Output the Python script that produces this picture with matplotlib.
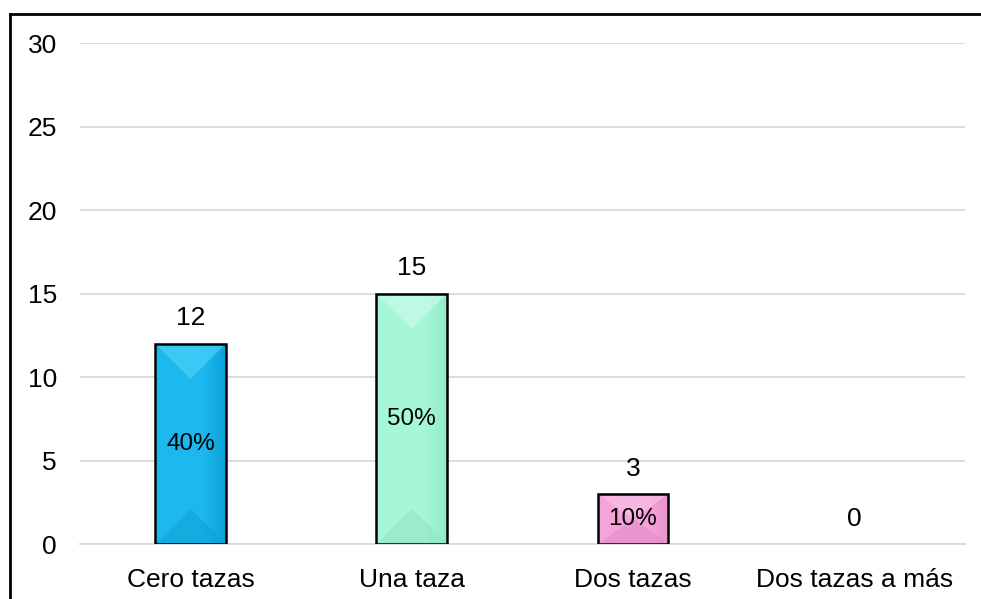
import numpy as np
import matplotlib.pyplot as plt
from matplotlib.patches import Polygon
from matplotlib.lines import Line2D
from matplotlib.colors import LinearSegmentedColormap

plt.rcParams['font.family'] = ['Liberation Sans', 'DejaVu Sans']

categorias = ['Cero tazas', 'Una taza', 'Dos tazas', 'Dos tazas a más']
cantidades = [12, 15, 3, 0]
porcentajes = ['40%', '50%', '10%', '']
colores = ['#1CB8EE', '#A6F7D8', '#F6A3DA', '#CCCCCC']
claros = ['#4FD6FB', '#CFFCEF', '#FBC3E9', '#EEEEEE']
oscuros = ['#0E9FD2', '#8FE3C3', '#E08BC4', '#AAAAAA']
derechos = ['#0BA3DA', '#93EBC8', '#EA93CC', '#BBBBBB']

fig = plt.figure(figsize=(9.81, 5.99), dpi=100)
ax = fig.add_axes([0.0815, 0.0918, 0.902, 0.8364])

x = np.arange(len(categorias))
ancho = 0.32
ax.set_ylim(0, 30)
ax.set_xlim(-0.5, len(categorias) - 0.5)
barras = ax.bar(x, cantidades, width=ancho, color=colores, edgecolor='none',
                linewidth=0, zorder=3)

# profundidad del bisel (45 grados) en unidades de datos
fig.canvas.draw()
p0 = ax.transData.transform((0, 0))
p1 = ax.transData.transform((ancho, 1))
d_bisel = ((p1[0] - p0[0]) / 2) / (p1[1] - p0[1])

for b, c_base, c_claro, c_osc, c_der in zip(barras, colores, claros, oscuros, derechos):
    h = b.get_height()
    if h <= 0:
        b.set_visible(False)
        continue
    x0, w = b.get_x(), b.get_width()
    # degradado horizontal: mas oscuro a la derecha
    grad = np.linspace(0, 1, 64).reshape(1, -1)
    cmap = LinearSegmentedColormap.from_list('g', [c_base, c_base, c_base, c_der])
    im = ax.imshow(grad, extent=(x0, x0 + w, 0, h), aspect='auto', cmap=cmap,
                   zorder=3.2, interpolation='bilinear')
    im.set_clip_path(b)
    d = min(d_bisel, h / 2)
    ax.add_patch(Polygon([(x0, h), (x0 + w, h), (x0 + w / 2, h - d)],
                         closed=True, color=c_claro, alpha=0.6, lw=0, zorder=3.5))
    ax.add_patch(Polygon([(x0, 0), (x0 + w, 0), (x0 + w / 2, d)],
                         closed=True, color=c_osc, alpha=0.5, lw=0, zorder=3.5))
    ax.add_patch(Polygon([(x0, 0), (x0 + w, 0), (x0 + w, h), (x0, h)],
                         closed=True, fill=False, edgecolor='black', lw=1.8, zorder=4))

ax.set_xlim(-0.5, len(categorias) - 0.5)
ax.set_ylim(0, 30)

for xi, v, p in zip(x, cantidades, porcentajes):
    ax.text(xi, v + 0.8, str(v), ha='center', va='bottom', fontsize=19, zorder=5)
    if p:
        ax.text(xi, v / 2, p, ha='center', va='center', fontsize=17.5, zorder=5)

ax.set_yticks(range(0, 31, 5))
ax.set_xticks(x)
ax.set_xticklabels(categorias)
ax.tick_params(axis='both', length=0, labelsize=19)
ax.tick_params(axis='y', pad=16.5)
ax.tick_params(axis='x', pad=17)
ax.yaxis.grid(True, color='#D9D9D9', linewidth=1.3, zorder=0)
ax.set_axisbelow(True)
for s in ['top', 'right', 'left']:
    ax.spines[s].set_visible(False)
ax.spines['bottom'].set_color('#D9D9D9')
ax.spines['bottom'].set_linewidth(1.3)

# marco del grafico
fig.add_artist(Line2D([0.0105, 0.0105], [0, 0.977], color='black', lw=2))
fig.add_artist(Line2D([0.0105, 1.0], [0.977, 0.977], color='black', lw=2))

fig.savefig('out.png', dpi=100)
